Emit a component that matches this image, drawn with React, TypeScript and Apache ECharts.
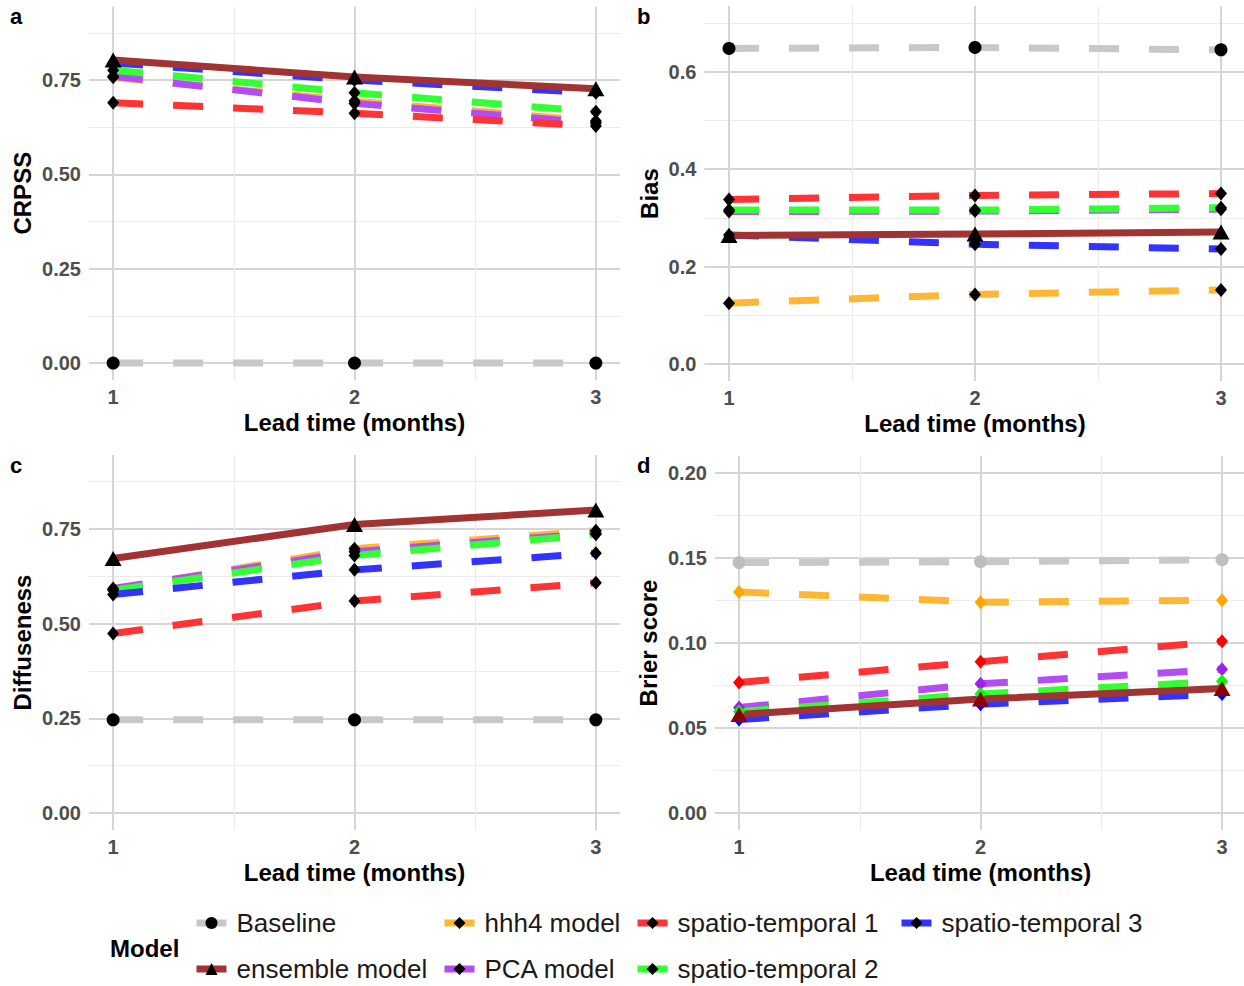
import React, { useEffect, useRef } from "react";
import * as echarts from "echarts";

const FONT = "'Liberation Sans', Arial, Helvetica, sans-serif";

// ---------------- data ----------------
const leadTimes = [1, 2, 3];
const models = [
  "Baseline",
  "ensemble model",
  "hhh4 model",
  "PCA model",
  "spatio-temporal 1",
  "spatio-temporal 2",
  "spatio-temporal 3",
];

// Panel a: CRPSS
const crpssBaseline = [0.0, 0.0, 0.0];
const crpssEnsemble = [0.803, 0.758, 0.727];
const crpssHhh4 = [0.757, 0.694, 0.641];
const crpssPca = [0.760, 0.688, 0.636];
const crpssSt1 = [0.690, 0.662, 0.628];
const crpssSt2 = [0.776, 0.716, 0.666];
const crpssSt3 = [0.795, 0.750, 0.716];

// Panel b: Bias
const biasBaseline = [0.648, 0.650, 0.645];
const biasEnsemble = [0.264, 0.267, 0.271];
const biasHhh4 = [0.125, 0.143, 0.152];
const biasPca = [0.313, 0.314, 0.318];
const biasSt1 = [0.338, 0.346, 0.350];
const biasSt2 = [0.316, 0.316, 0.321];
const biasSt3 = [0.265, 0.246, 0.236];

// Panel c: Diffuseness
const diffBaseline = [0.246, 0.246, 0.246];
const diffEnsemble = [0.672, 0.762, 0.800];
const diffHhh4 = [0.590, 0.698, 0.745];
const diffPca = [0.593, 0.690, 0.739];
const diffSt1 = [0.474, 0.560, 0.608];
const diffSt2 = [0.588, 0.680, 0.736];
const diffSt3 = [0.577, 0.642, 0.686];

// Panel d: Brier score
const brierBaseline = [0.1473, 0.1478, 0.149];
const brierEnsemble = [0.058, 0.067, 0.0733];
const brierHhh4 = [0.13, 0.124, 0.1252];
const brierPca = [0.062, 0.076, 0.0845];
const brierSt1 = [0.0768, 0.089, 0.101];
const brierSt2 = [0.0597, 0.07, 0.0775];
const brierSt3 = [0.055, 0.064, 0.07];

// tick labels / grid breaks
const xTicks = [1, 2, 3];
const xMinor = [1.5, 2.5];
const crpssTicks = [0, 0.25, 0.5, 0.75];
const crpssMinor = [0.125, 0.375, 0.625, 0.875];
const biasTicks = [0, 0.2, 0.4, 0.6];
const biasMinor = [0.1, 0.3, 0.5, 0.7];
const diffTicks = [0, 0.25, 0.5, 0.75];
const diffMinor = [0.125, 0.375, 0.625, 0.875];
const brierTicks = [0, 0.05, 0.1, 0.15, 0.2];
const brierMinor = [0.025, 0.075, 0.125, 0.175];

// ---------------- styles ----------------
const lineColors: Record<string, string> = {
  Baseline: "#C8C8C8",
  "ensemble model": "#A23333",
  "hhh4 model": "#FFB733",
  "PCA model": "#B34DF3",
  "spatio-temporal 1": "#FF3333",
  "spatio-temporal 2": "#33FF33",
  "spatio-temporal 3": "#3333FF",
};
const pointColorsD: Record<string, string> = {
  Baseline: "#BEBEBE",
  "ensemble model": "#8B0000",
  "hhh4 model": "#FFA500",
  "PCA model": "#A020F0",
  "spatio-temporal 1": "#FF0000",
  "spatio-temporal 2": "#00FF00",
  "spatio-temporal 3": "#0000FF",
};
const symbolOf = (m: string) =>
  m === "Baseline" ? "circle" : m === "ensemble model" ? "triangle" : "diamond";
const symbolSizeOf = (m: string) =>
  m === "Baseline" ? 13 : m === "ensemble model" ? [17, 15] : [12, 14];

const drawOrder = [
  "Baseline",
  "hhh4 model",
  "PCA model",
  "spatio-temporal 1",
  "spatio-temporal 2",
  "spatio-temporal 3",
  "ensemble model",
];

const panels = [
  {
    label: "a",
    yName: "CRPSS",
    ticks: crpssTicks,
    minor: crpssMinor,
    decimals: 2,
    yMin: -0.045,
    yMax: 0.945,
    grid: { left: 89, top: 6.4, width: 531, height: 373.6 },
    nameGap: 55,
    coloredPoints: false,
    values: {
      Baseline: crpssBaseline,
      "ensemble model": crpssEnsemble,
      "hhh4 model": crpssHhh4,
      "PCA model": crpssPca,
      "spatio-temporal 1": crpssSt1,
      "spatio-temporal 2": crpssSt2,
      "spatio-temporal 3": crpssSt3,
    } as Record<string, number[]>,
  },
  {
    label: "b",
    yName: "Bias",
    ticks: biasTicks,
    minor: biasMinor,
    decimals: 1,
    yMin: -0.035,
    yMax: 0.735,
    grid: { left: 704.4, top: 6.0, width: 541.2, height: 375.1 },
    nameGap: 43,
    coloredPoints: false,
    values: {
      Baseline: biasBaseline,
      "ensemble model": biasEnsemble,
      "hhh4 model": biasHhh4,
      "PCA model": biasPca,
      "spatio-temporal 1": biasSt1,
      "spatio-temporal 2": biasSt2,
      "spatio-temporal 3": biasSt3,
    } as Record<string, number[]>,
  },
  {
    label: "c",
    yName: "Diffuseness",
    ticks: diffTicks,
    minor: diffMinor,
    decimals: 2,
    yMin: -0.045,
    yMax: 0.945,
    grid: { left: 89, top: 455.1, width: 531, height: 375 },
    nameGap: 55,
    coloredPoints: false,
    values: {
      Baseline: diffBaseline,
      "ensemble model": diffEnsemble,
      "hhh4 model": diffHhh4,
      "PCA model": diffPca,
      "spatio-temporal 1": diffSt1,
      "spatio-temporal 2": diffSt2,
      "spatio-temporal 3": diffSt3,
    } as Record<string, number[]>,
  },
  {
    label: "d",
    yName: "Brier score",
    ticks: brierTicks,
    minor: brierMinor,
    decimals: 2,
    yMin: -0.01,
    yMax: 0.21,
    grid: { left: 714.9, top: 456, width: 531.3, height: 374 },
    nameGap: 54,
    coloredPoints: true,
    values: {
      Baseline: brierBaseline,
      "ensemble model": brierEnsemble,
      "hhh4 model": brierHhh4,
      "PCA model": brierPca,
      "spatio-temporal 1": brierSt1,
      "spatio-temporal 2": brierSt2,
      "spatio-temporal 3": brierSt3,
    } as Record<string, number[]>,
  },
];

const labelPos = [
  { x: 10, y: 5 },
  { x: 637, y: 5 },
  { x: 10, y: 454 },
  { x: 637, y: 454 },
];

function buildOption() {
  const grids: any[] = [];
  const xAxes: any[] = [];
  const yAxes: any[] = [];
  const lineSeries: any[] = [];
  const pointSeries: any[] = [];

  const majorColor = "#D5D5D5";
  const minorColor = "#EBEBEB";
  const tickLabel = {
    fontSize: 20,
    fontWeight: "bold",
    color: "#4D4D4D",
    fontFamily: FONT,
  };

  panels.forEach((p, i) => {
    grids.push({ ...p.grid, containLabel: false });
    // x major
    xAxes.push({
      type: "value",
      gridIndex: i,
      min: 0.9,
      max: 3.1,
      name: "Lead time (months)",
      nameLocation: "middle",
      nameGap: 30,
      nameTextStyle: { fontSize: 24, fontWeight: "bold", color: "#000", fontFamily: FONT },
      axisLine: { show: false },
      axisTick: { show: false, customValues: xTicks },
      axisLabel: {
        ...tickLabel,
        margin: 7,
        customValues: xTicks,
        formatter: (v: number) => String(v),
      },
      splitLine: { show: true, lineStyle: { color: majorColor, width: 2 } },
    });
    // x minor
    xAxes.push({
      type: "value",
      gridIndex: i,
      min: 0.9,
      max: 3.1,
      axisLine: { show: false },
      axisTick: { show: false, customValues: xMinor },
      axisLabel: { show: false, customValues: xMinor },
      splitLine: { show: true, lineStyle: { color: minorColor, width: 1.2 } },
    });
    // y major
    yAxes.push({
      type: "value",
      gridIndex: i,
      position: "left",
      min: p.yMin,
      max: p.yMax,
      name: p.yName,
      nameLocation: "middle",
      nameGap: p.nameGap,
      nameTextStyle: { fontSize: 24, fontWeight: "bold", color: "#000", fontFamily: FONT },
      axisLine: { show: false },
      axisTick: { show: false, customValues: p.ticks },
      axisLabel: {
        ...tickLabel,
        margin: 8,
        customValues: p.ticks,
        formatter: (v: number) => v.toFixed(p.decimals),
      },
      splitLine: { show: true, lineStyle: { color: majorColor, width: 2 } },
    });
    // y minor
    yAxes.push({
      type: "value",
      gridIndex: i,
      position: "left",
      min: p.yMin,
      max: p.yMax,
      axisLine: { show: false },
      axisTick: { show: false, customValues: p.minor },
      axisLabel: { show: false, customValues: p.minor },
      splitLine: { show: true, lineStyle: { color: minorColor, width: 1.2 } },
    });

    drawOrder.forEach((m) => {
      const vals = p.values[m];
      const data = leadTimes.map((x, k) => [x, vals[k]]);
      const isEns = m === "ensemble model";
      lineSeries.push({
        type: "line",
        name: m,
        xAxisIndex: 2 * i,
        yAxisIndex: 2 * i,
        data,
        symbol: symbolOf(m),
        symbolSize: symbolSizeOf(m),
        showSymbol: false,
        silent: true,
        z: 2,
        itemStyle: { color: "#000" },
        lineStyle: {
          color: lineColors[m],
          width: 7,
          type: isEns ? "solid" : [30, 30],
          cap: "butt",
          join: "round",
        },
      });
      pointSeries.push({
        type: "scatter",
        name: m,
        xAxisIndex: 2 * i,
        yAxisIndex: 2 * i,
        data,
        symbol: symbolOf(m),
        symbolSize: symbolSizeOf(m),
        silent: true,
        z: 3,
        itemStyle: { color: p.coloredPoints ? pointColorsD[m] : "#000", opacity: 1 },
      });
    });
  });

  const legendItem = (m: string) => ({
    name: m,
    itemStyle: { color: "#000" },
    lineStyle: { color: lineColors[m], width: 7, type: "solid", cap: "butt" },
  });
  const legendBase = {
    orient: "vertical",
    top: 910,
    itemGap: 20,
    itemWidth: 30,
    itemHeight: 15,
    padding: 0,
    selectedMode: false,
    textStyle: {
      fontSize: 26,
      color: "#1A1A1A",
      fontFamily: FONT,
      padding: [0, 0, 0, 5],
    },
  };
  const legendCols = [
    { left: 193, names: ["Baseline", "ensemble model"] },
    { left: 441, names: ["hhh4 model", "PCA model"] },
    { left: 634, names: ["spatio-temporal 1", "spatio-temporal 2"] },
    { left: 898, names: ["spatio-temporal 3"] },
  ];

  const graphics: any[] = panels.map((p, i) => ({
    type: "text",
    x: labelPos[i].x,
    y: labelPos[i].y,
    style: {
      text: p.label,
      font: `bold 22px ${FONT}`,
      fill: "#000",
    },
  }));
  graphics.push({
    type: "text",
    x: 110,
    y: 936,
    style: { text: "Model", font: `bold 24px ${FONT}`, fill: "#000" },
  });

  return {
    animation: false,
    backgroundColor: "#FFFFFF",
    textStyle: { fontFamily: FONT },
    tooltip: { show: false },
    grid: grids,
    xAxis: xAxes,
    yAxis: yAxes,
    series: [...lineSeries, ...pointSeries],
    legend: legendCols.map((c) => ({
      ...legendBase,
      left: c.left,
      data: c.names.map(legendItem),
    })),
    graphic: graphics,
  };
}

export default function App() {
  const ref = useRef<HTMLDivElement>(null);
  useEffect(() => {
    if (!ref.current) return;
    const chart = echarts.init(ref.current, null, { renderer: "svg" });
    chart.setOption(buildOption() as any);
    return () => {
      chart.dispose();
    };
  }, []);
  return (
    <div
      style={{
        position: "absolute",
        left: 0,
        top: 0,
        width: 1244,
        height: 986,
        overflow: "hidden",
        background: "#fff",
      }}
    >
      <div ref={ref} style={{ width: 1252, height: 986 }} />
    </div>
  );
}
